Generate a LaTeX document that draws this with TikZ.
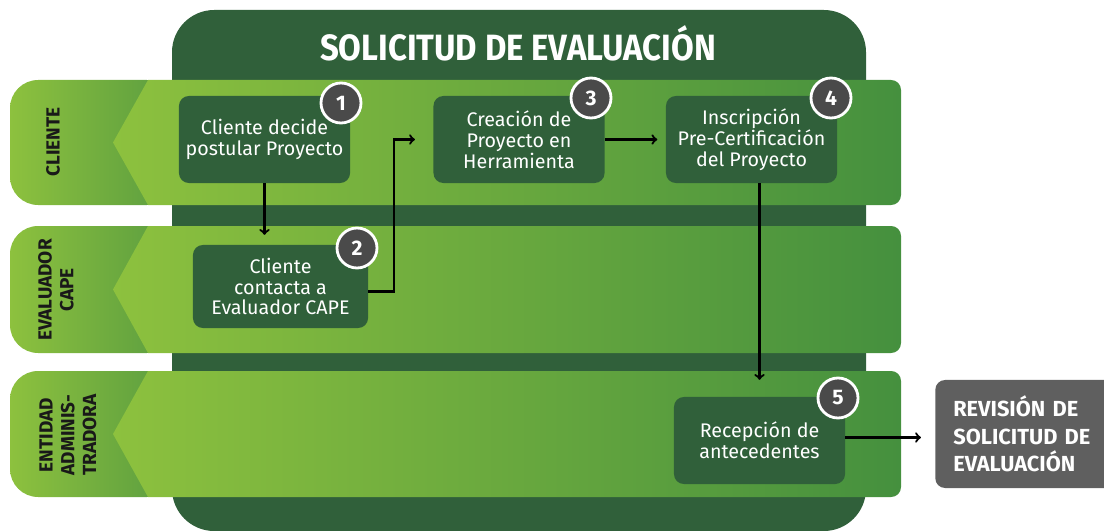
\documentclass[tikz,border=0pt]{standalone}
\usepackage{fontspec}
\setmainfont{Fira Sans}
\newfontfamily\headfont{Fira Sans}[FakeStretch=0.9]
\usepackage{tikz}
\usetikzlibrary{calc}
\usetikzlibrary{arrows}
\usetikzlibrary{positioning}

\definecolor{bgdark}{HTML}{30603A}
\definecolor{lanelight}{HTML}{8DC13E}
\definecolor{lanedark}{HTML}{45903E}
\definecolor{tabdark}{HTML}{5A9D40}
\definecolor{badgegray}{HTML}{4A4A4A}
\definecolor{endgray}{HTML}{5F5F5F}

\begin{document}
\begin{tikzpicture}[x=0.025cm, y=-0.025cm,
		taskbox/.style={rectangle, rounded corners=7, fill=bgdark, text=white, align=center, inner sep=0,
			minimum width=4.275cm, minimum height=2.175cm, font=\fontsize{14}{14.8}\selectfont},
		badge/.style={circle, fill=badgegray, draw=white, line width=2pt, minimum size=1cm, inner sep=0,
			text=white, font=\bfseries\fontsize{15}{15}\selectfont},
		lanelabel/.style={rotate=90, align=center, text=black!90, font=\bfseries\fontsize{13.5}{15.5}\selectfont},
		flow/.style={->, line width=1.6pt, black}]
		\useasboundingbox (0,0) rectangle (1104,531);

		\fill[bgdark, rounded corners=30] (172,10) rectangle (866,531);
		\node[text=white, font=\headfont\bfseries\fontsize{26}{26}\selectfont] (title) at (518,43) {SOLICITUD DE EVALUACIÓN};

		\foreach \ytop/\ybot in {80/205, 226/353, 371/497} {
			\shade[left color=lanelight, right color=tabdark, rounded corners=20] (10,\ytop) rectangle (175,\ybot);
			\begin{scope}
				\clip[rounded corners=7] (100,\ytop) rectangle (901,\ybot);
				\shade[left color=lanelight, right color=lanedark] (148,\ytop) -- (113,{(\ytop+\ybot)/2}) -- (148,\ybot) -- (901,\ybot) -- (901,\ytop) -- cycle;
			\end{scope}
		}

		\node[lanelabel] (cliente) at (53,142) {CLIENTE};
		\node[lanelabel] (evaluador) at (56,290) {EVALUADOR\\CAPE};
		\node[lanelabel] (entidad) at (68,435) {ENTIDAD\\ADMINIS-\\TRADORA};

		\node[taskbox] (task1) at (264.5,139.5) {Cliente decide\\postular Proyecto};
		\node[taskbox] (task3) at (519,139.5) {Creación de\\Proyecto en\\Herramienta};
		\node[taskbox] (task4) at (751.5,139.5) {Inscripción\\Pre-Certificación\\del Proyecto};
		\node[taskbox, minimum width=4.375cm, minimum height=2.075cm] (task2) at (280.5,286.5) {Cliente\\contacta a\\Evaluador CAPE};
		\node[taskbox] (task5) at (759.5,440.5) {Recepción de\\antecedentes};
		\node[rectangle, rounded corners=7, fill=endgray, text=white, align=left, text width=3.8cm, inner xsep=0.45cm,
			minimum height=2.7cm, anchor=west, font=\bfseries\fontsize{15.5}{19.5}\selectfont] (review) at (935,434) {REVISIÓN DE\\SOLICITUD DE\\EVALUACIÓN};

		\node[badge] (num1) at (341,103) {1};
		\node[badge] (num2) at (357,248) {2};
		\node[badge] (num3) at (591,98) {3};
		\node[badge] (num4) at (831,98) {4};
		\node[badge] (num5) at (838,398) {5};

		\draw[flow, shorten >=7] (task1.south) -- (task1.south |- task2.north);
		\draw[flow, shorten >=13] ($(task2.east)+(0,5)$) -- ++(26,0) |- (task3.west);
		\draw[flow, shorten >=6] (task3.east) -- (task4.west);
		\draw[flow, shorten >=12] (task5.north |- task4.south) -- (task5.north);
		\draw[flow, shorten >=10] ($(task5.east)+(0,-3)$) -- ($(task5.east -| review.west)+(0,-3)$);
	\end{tikzpicture}
\end{document}
